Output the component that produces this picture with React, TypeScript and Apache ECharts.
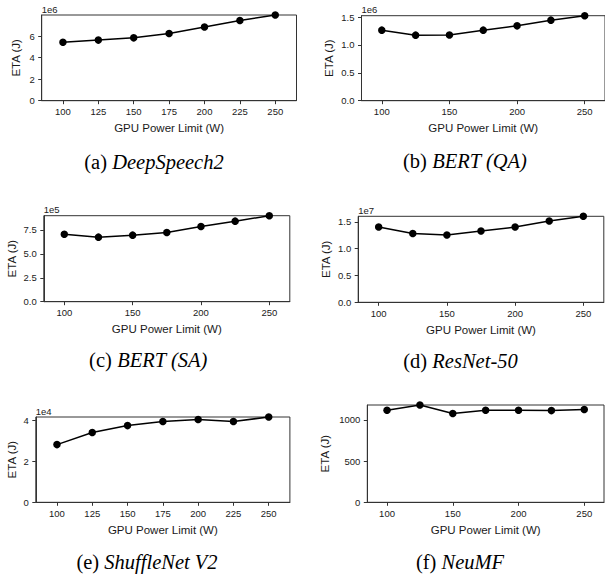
import React, { useEffect, useRef } from "react";
import * as echarts from "echarts";

// ---- data ----
const powerLimits = [100, 125, 150, 175, 200, 225, 250];
const deepSpeech2Eta = [5.43e6, 5.62e6, 5.83e6, 6.23e6, 6.83e6, 7.44e6, 7.95e6];
const bertQaEta = [1.266e6, 1.176e6, 1.18e6, 1.266e6, 1.343e6, 1.445e6, 1.525e6];
const bertSaEta = [7.05e5, 6.74e5, 6.95e5, 7.22e5, 7.85e5, 8.41e5, 8.98e5];
const resnet50Eta = [1.404e7, 1.285e7, 1.255e7, 1.33e7, 1.404e7, 1.517e7, 1.605e7];
const shuffleNetEta = [2.82e4, 3.41e4, 3.75e4, 3.95e4, 4.05e4, 3.95e4, 4.17e4];
const neuMfEta = [1119, 1182, 1078, 1119, 1119, 1114, 1127];

const xTicksFine = [100, 125, 150, 175, 200, 225, 250];
const xTicksCoarse = [100, 150, 200, 250];
const yTicksA = [0, 2e6, 4e6, 6e6];
const yTicksB = [0, 0.5e6, 1.0e6, 1.5e6];
const yTicksC = [0, 2.5e5, 5.0e5, 7.5e5];
const yTicksD = [0, 0.5e7, 1.0e7, 1.5e7];
const yTicksE = [0, 2e4, 4e4];
const yTicksF = [0, 500, 1000];

const captionLetters = ["(a)", "(b)", "(c)", "(d)", "(e)", "(f)"];
const modelNames = ["DeepSpeech2", "BERT (QA)", "BERT (SA)", "ResNet-50", "ShuffleNet V2", "NeuMF"];
const offsetLabels = ["1e6", "1e6", "1e5", "1e7", "1e4", ""];
const xAxisTitle = "GPU Power Limit (W)";
const yAxisTitle = "ETA (J)";

// ---- layout / style ----
const SANS = "'Liberation Sans', Arial, Helvetica, sans-serif";
const SERIF = "'Liberation Serif', 'Times New Roman', serif";
const AXIS_COLOR = "#333";
const TEXT_COLOR = "#1a1a1a";

const panels = [
  { data: deepSpeech2Eta, xt: xTicksFine, yt: yTicksA, scale: 1e6, dec: 0, left: 41.7, top: 15, width: 254.8, height: 85.7, yGap: 19.5, cx: 154, cy: 162 },
  { data: bertQaEta, xt: xTicksCoarse, yt: yTicksB, scale: 1e6, dec: 1, left: 361.5, top: 15.7, width: 245.7, height: 85, yGap: 26.7, cx: 465, cy: 161 },
  { data: bertSaEta, xt: xTicksCoarse, yt: yTicksC, scale: 1e5, dec: 1, left: 43.8, top: 215.7, width: 246, height: 86, yGap: 26.3, cx: 148.3, cy: 360 },
  { data: resnet50Eta, xt: xTicksCoarse, yt: yTicksD, scale: 1e7, dec: 1, left: 358.2, top: 216.3, width: 245.6, height: 86, yGap: 26.7, cx: 460.5, cy: 361 },
  { data: shuffleNetEta, xt: xTicksFine, yt: yTicksE, scale: 1e4, dec: 0, left: 35.8, top: 417, width: 254.1, height: 85.3, yGap: 18.3, cx: 147, cy: 561.7 },
  { data: neuMfEta, xt: xTicksCoarse, yt: yTicksF, scale: 1, dec: 0, left: 367.3, top: 405, width: 236.7, height: 97.3, yGap: 36.5, cx: 460, cy: 561.7 },
];

export default function App() {
  const ref = useRef<HTMLDivElement>(null);

  useEffect(() => {
    if (!ref.current) return;
    const chart = echarts.init(ref.current, undefined, { renderer: "svg" });

    const grid = panels.map((p) => ({
      left: p.left,
      top: p.top,
      width: p.width,
      height: p.height,
      show: true,
      borderColor: AXIS_COLOR,
      borderWidth: 1,
      backgroundColor: "transparent",
      containLabel: false,
    }));

    const xAxis = panels.map((p, i) => ({
      type: "value",
      gridIndex: i,
      min: 85,
      max: 265,
      axisLine: { show: true, onZero: false, lineStyle: { color: AXIS_COLOR, width: 1 } },
      axisTick: { show: true, length: 3.5, lineStyle: { color: AXIS_COLOR }, customValues: p.xt },
      axisLabel: { customValues: p.xt, margin: 6, fontSize: 9.5, color: TEXT_COLOR, fontFamily: SANS },
      splitLine: { show: false },
      name: xAxisTitle,
      nameLocation: "middle",
      nameGap: 21.5,
      nameTextStyle: { fontSize: 11.5, color: TEXT_COLOR, fontFamily: SANS },
    }));

    const yAxis = panels.map((p, i) => ({
      type: "value",
      gridIndex: i,
      min: 0,
      max: "dataMax",
      axisLine: { show: true, onZero: false, lineStyle: { color: AXIS_COLOR, width: 1 } },
      axisTick: { show: true, length: 3.5, lineStyle: { color: AXIS_COLOR }, customValues: p.yt },
      axisLabel: {
        customValues: p.yt,
        margin: 7,
        fontSize: 9.5,
        color: TEXT_COLOR,
        fontFamily: SANS,
        formatter: (v: number) => (v / p.scale).toFixed(p.dec),
      },
      splitLine: { show: false },
      name: yAxisTitle,
      nameLocation: "middle",
      nameGap: p.yGap,
      nameTextStyle: { fontSize: 11.5, color: TEXT_COLOR, fontFamily: SANS },
    }));

    const series = panels.map((p, i) => ({
      type: "line",
      xAxisIndex: i,
      yAxisIndex: i,
      data: powerLimits.map((x, j) => [x, p.data[j]]),
      symbol: "circle",
      symbolSize: 7.5,
      lineStyle: { color: "#000", width: 1.5 },
      itemStyle: { color: "#000" },
      clip: false,
      silent: true,
    }));

    const graphic: any[] = [];
    panels.forEach((p, i) => {
      if (offsetLabels[i]) {
        graphic.push({
          type: "text",
          x: p.left,
          y: p.top - 6,
          style: {
            text: offsetLabels[i],
            fontSize: 9.5,
            fontFamily: SANS,
            fill: TEXT_COLOR,
            align: "left",
            verticalAlign: "middle",
          },
        });
      }
      graphic.push({
        type: "text",
        x: p.cx,
        y: p.cy,
        style: {
          text: `{n|${captionLetters[i]} }{i|${modelNames[i]}}`,
          align: "center",
          verticalAlign: "middle",
          rich: {
            n: { fontSize: 20.5, fontFamily: SERIF, fill: "#000" },
            i: { fontSize: 20.5, fontFamily: SERIF, fontStyle: "italic", fill: "#000" },
          },
        },
      });
    });

    chart.setOption({
      animation: false,
      backgroundColor: "#fff",
      grid,
      xAxis,
      yAxis,
      series,
      graphic,
    } as any);

    return () => chart.dispose();
  }, []);

  return (
    <div
      ref={ref}
      style={{ position: "fixed", left: 0, top: 0, width: 605, height: 575 }}
    />
  );
}
